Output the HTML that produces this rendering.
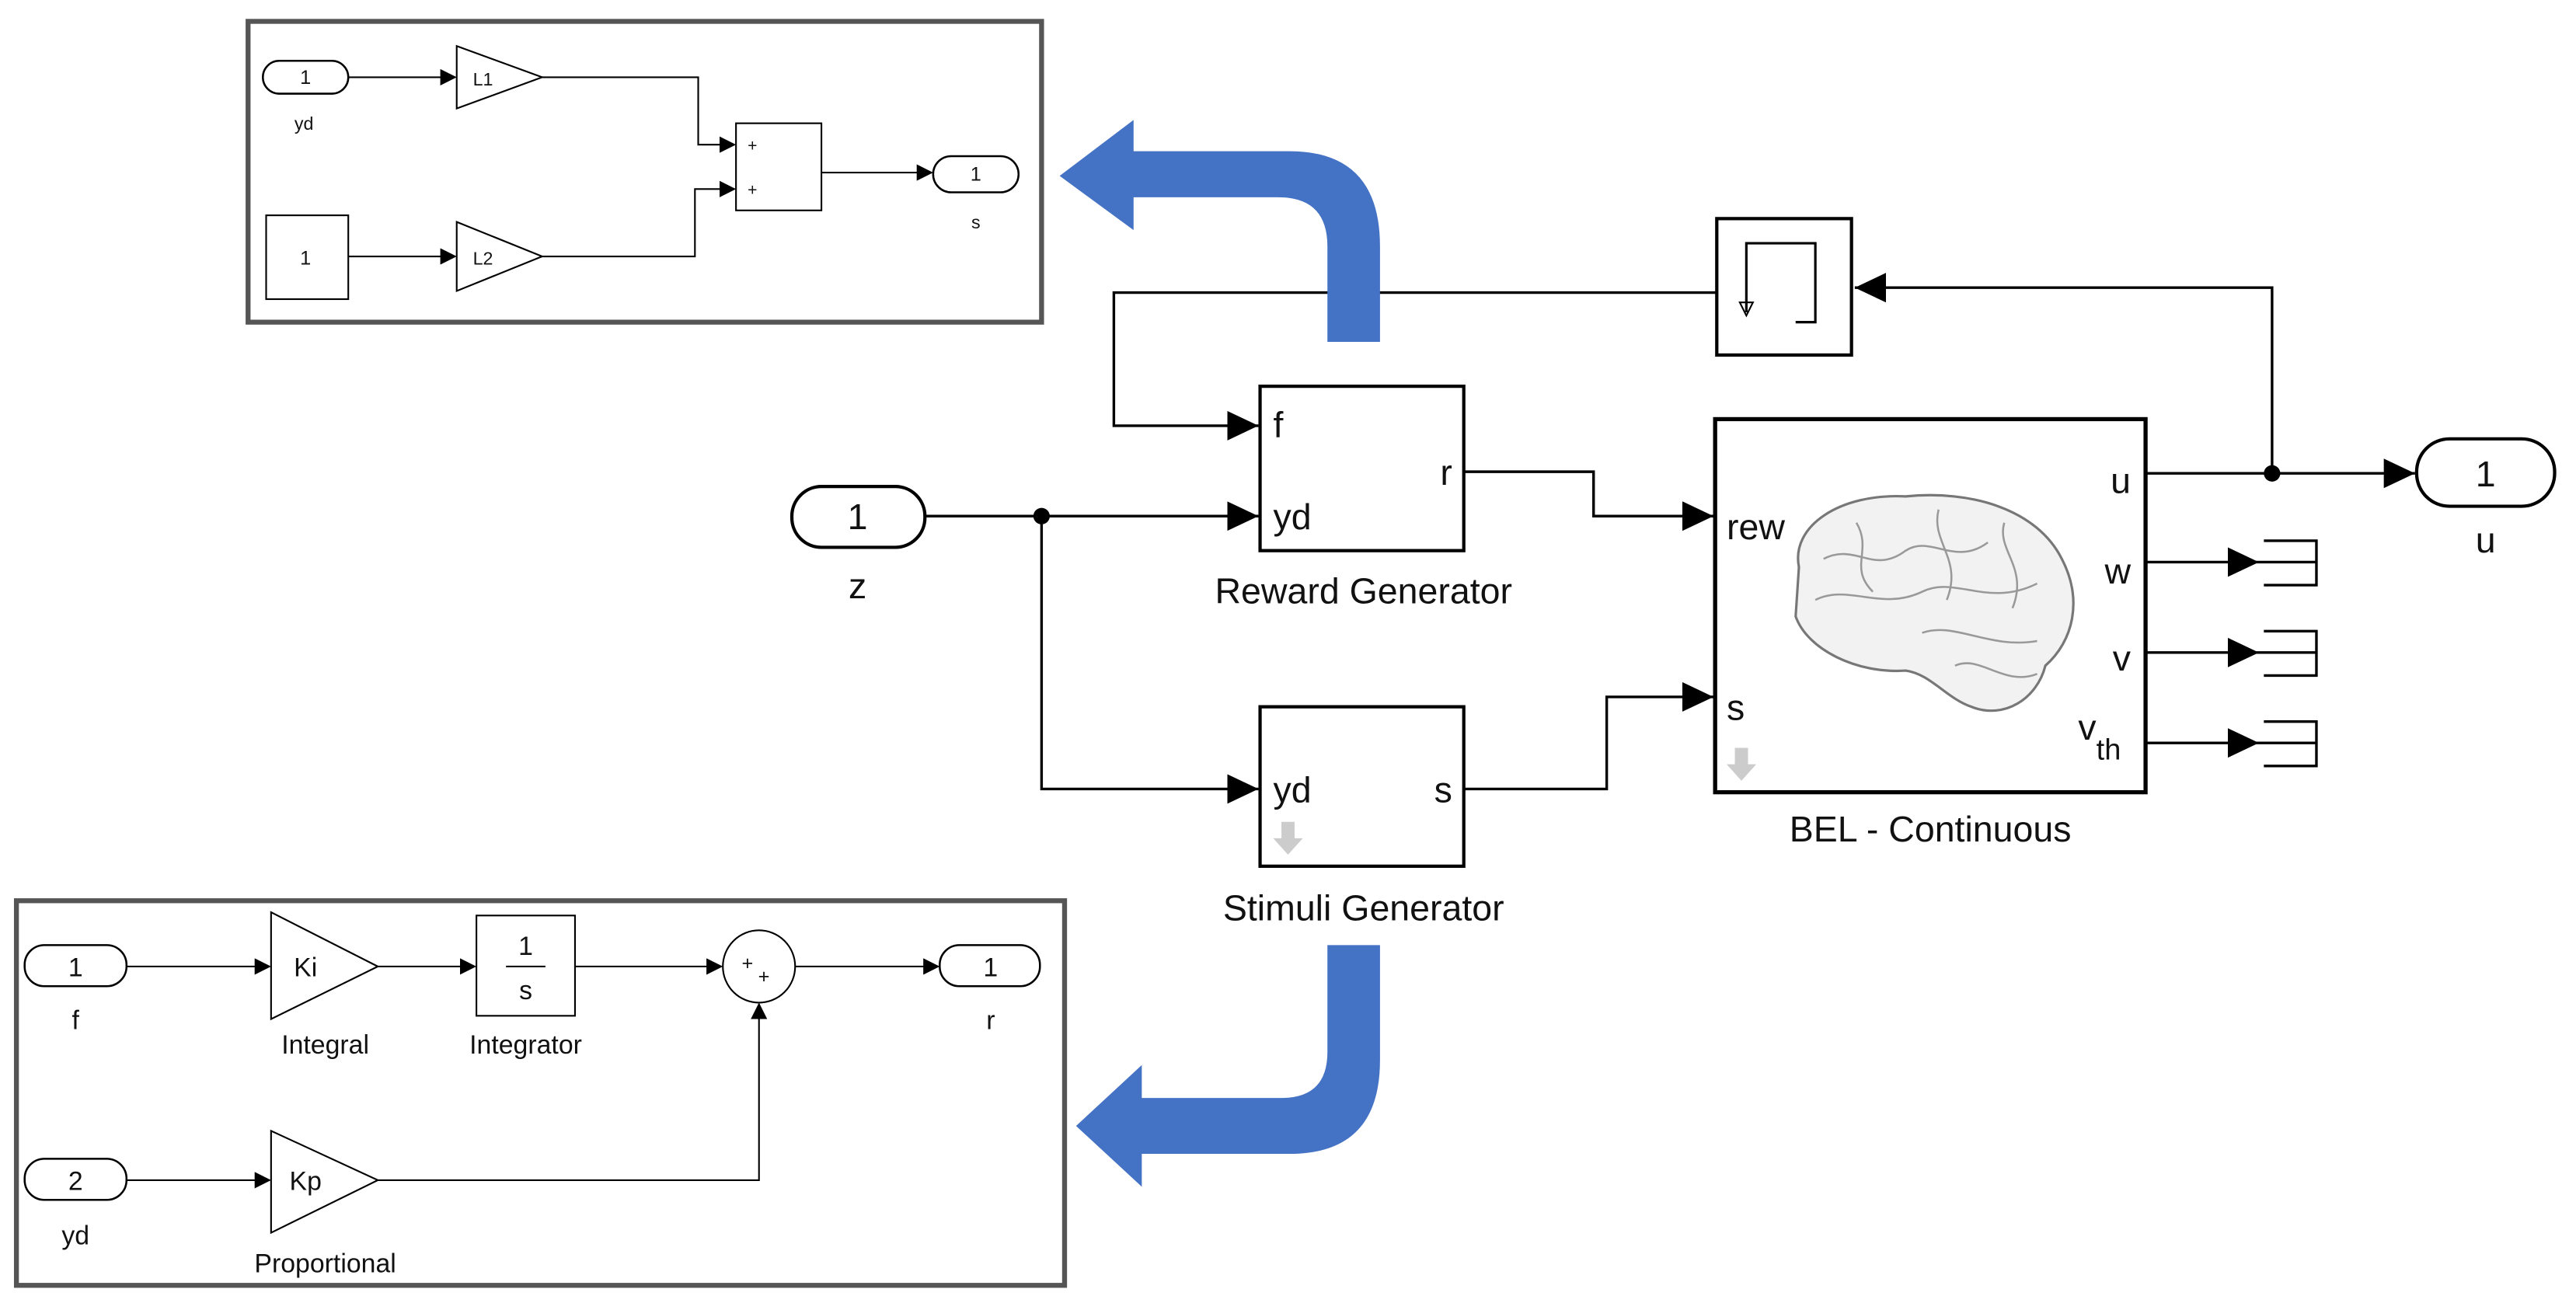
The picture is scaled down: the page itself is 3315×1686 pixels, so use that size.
<!DOCTYPE html>
<html><head><meta charset="utf-8"><style>
html,body{margin:0;padding:0;background:#fff;}
svg{display:block;}
text{font-family:"Liberation Sans",sans-serif;fill:#111;}
</style></head><body>
<svg width="3315" height="1686" viewBox="0 0 1568 797" preserveAspectRatio="none" xmlns="http://www.w3.org/2000/svg">
<defs>
<marker id="a" markerWidth="10" markerHeight="10" refX="9" refY="5" orient="auto" markerUnits="userSpaceOnUse"><path d="M0,0 L10,5 L0,10 Z" fill="#000"/></marker>
<marker id="A" markerWidth="20" markerHeight="20" refX="19" refY="9" orient="auto" markerUnits="userSpaceOnUse"><path d="M0,0 L19,9 L0,18 Z" fill="#000"/></marker>
</defs>
<g fill="none" stroke="#000">
<!-- top-left box -->
<rect x="151" y="13" width="483" height="183" stroke="#555" stroke-width="3"/>
<rect x="160" y="37" width="52" height="20" rx="10" stroke-width="1.2"/>
<line x1="212" y1="47" x2="277" y2="47" marker-end="url(#a)"/>
<path d="M278,28 L330,47 L278,66 Z"/>
<polyline points="330,47 425,47 425,88 447,88" marker-end="url(#a)"/>
<rect x="448" y="75" width="52" height="53"/>
<rect x="162" y="131" width="50" height="51"/>
<line x1="212" y1="156" x2="277" y2="156" marker-end="url(#a)"/>
<path d="M278,135 L330,156 L278,177 Z"/>
<polyline points="330,156 423,156 423,115 447,115" marker-end="url(#a)"/>
<line x1="500" y1="105" x2="567" y2="105" marker-end="url(#a)"/>
<rect x="568" y="95" width="52" height="22" rx="11" stroke-width="1.2"/>
<!-- bottom-left box -->
<rect x="10" y="548" width="638" height="234" stroke="#555" stroke-width="3"/>
<rect x="15" y="575" width="62" height="25" rx="12" stroke-width="1.2"/>
<line x1="77" y1="588" x2="164" y2="588" marker-end="url(#a)"/>
<path d="M165,555 L230,588 L165,620 Z"/>
<line x1="230" y1="588" x2="289" y2="588" marker-end="url(#a)"/>
<rect x="290" y="557" width="60" height="61"/>
<line x1="308" y1="588" x2="332" y2="588" stroke-width="1"/>
<line x1="350" y1="588" x2="439" y2="588" marker-end="url(#a)"/>
<circle cx="462" cy="588" r="22"/>
<line x1="484" y1="588" x2="571" y2="588" marker-end="url(#a)"/>
<rect x="572" y="575" width="61" height="25" rx="12" stroke-width="1.2"/>
<rect x="15" y="705" width="62" height="25" rx="12" stroke-width="1.2"/>
<line x1="77" y1="718" x2="164" y2="718" marker-end="url(#a)"/>
<path d="M165,688 L230,718 L165,750 Z"/>
<polyline points="230,718 462,718 462,611" marker-end="url(#a)"/>
<!-- main -->
<g stroke-width="1.6">
<rect x="482" y="296" width="81" height="37" rx="18" stroke-width="2"/>
<line x1="563" y1="314" x2="766" y2="314" marker-end="url(#A)"/>
<polyline points="634,314 634,480 766,480" marker-end="url(#A)"/>
<rect x="767" y="235" width="124" height="100" stroke-width="2"/>
<rect x="767" y="430" width="124" height="97" stroke-width="2"/>
<polyline points="891,287 970,287 970,314 1043,314" marker-end="url(#A)"/>
<polyline points="891,480 978,480 978,424 1043,424" marker-end="url(#A)"/>
<rect x="1044" y="255" width="262" height="227" stroke-width="2.5"/>
<line x1="1306" y1="288" x2="1470" y2="288" marker-end="url(#A)"/>
<rect x="1471" y="267" width="84" height="41" rx="20" stroke-width="2"/>
<polyline points="1383,288 1383,175 1129,175" marker-end="url(#A)"/>
<rect x="1045" y="133" width="82" height="83" stroke-width="2"/>
<polyline points="1045,178 678,178 678,259 766,259" marker-end="url(#A)"/>
<polyline points="1063,190 1063,148 1105,148 1105,196 1093,196" stroke-width="1.5"/>
<path d="M1059,184 L1067,184 L1063,192 Z" stroke-width="1"/>
<line x1="1306" y1="342" x2="1375" y2="342" marker-end="url(#A)"/>
<line x1="1306" y1="397" x2="1375" y2="397" marker-end="url(#A)"/>
<line x1="1306" y1="452" x2="1375" y2="452" marker-end="url(#A)"/>
<polyline points="1378,329 1410,329 1410,356 1378,356"/><line x1="1375" y1="342" x2="1410" y2="342"/>
<polyline points="1378,384 1410,384 1410,411 1378,411"/><line x1="1375" y1="397" x2="1410" y2="397"/>
<polyline points="1378,439 1410,439 1410,466 1378,466"/><line x1="1375" y1="452" x2="1410" y2="452"/>
</g>
<!-- brain -->
<path d="M1095,345 C1090,320 1120,300 1160,302 C1200,298 1240,310 1255,340 C1268,365 1262,390 1245,405 C1240,425 1220,438 1200,430 C1185,425 1175,410 1160,408 C1130,410 1100,395 1093,375 Z" fill="#f2f2f2" stroke="#777" stroke-width="1.5"/>
<path d="M1110,340 C1130,330 1140,350 1160,335 C1175,325 1190,345 1210,330 M1105,365 C1125,355 1145,372 1170,360 C1190,350 1210,370 1240,355 M1130,318 C1140,335 1125,345 1140,360 M1180,310 C1175,330 1195,340 1185,365 M1220,318 C1215,335 1235,345 1225,370 M1170,385 C1190,378 1210,395 1240,390 M1190,405 C1205,398 1220,418 1240,410" stroke="#999" stroke-width="1.2"/>
</g>
<!-- junctions -->
<circle cx="634" cy="314" r="5"/>
<circle cx="1383" cy="288" r="5"/>
<!-- gray arrows -->
<path d="M780,500 h8 v10 h5 l-9,10 l-9,-10 h5 z" fill="#ccc"/>
<path d="M1056,455 h8 v10 h5 l-9,10 l-9,-10 h5 z" fill="#ccc"/>
<!-- blue arrows -->
<path d="M808,208 L808,150 Q808,120 778,120 L690,120 L690,140 L645,107 L690,73 L690,92 L785,92 Q840,92 840,150 L840,208 Z" fill="#4472c4"/>
<path d="M808,575 L808,640 Q808,668 780,668 L695,668 L695,648 L655,685 L695,722 L695,702 L785,702 Q840,702 840,645 L840,575 Z" fill="#4472c4"/>
<!-- text -->
<g font-size="12" text-anchor="middle">
<text x="186" y="51">1</text><text x="185" y="79" font-size="11">yd</text>
<text x="294" y="52" font-size="11">L1</text><text x="294" y="161" font-size="11">L2</text>
<text x="186" y="161">1</text>
<text x="458" y="92" font-size="10">+</text><text x="458" y="119" font-size="10">+</text>
<text x="594" y="110">1</text><text x="594" y="139" font-size="11">s</text>
</g>
<g font-size="16" text-anchor="middle">
<text x="46" y="594">1</text><text x="46" y="626">f</text>
<text x="186" y="594">Ki</text><text x="198" y="641">Integral</text>
<text x="320" y="581">1</text><text x="320" y="608">s</text><text x="320" y="641">Integrator</text>
<text x="455" y="590" font-size="12">+</text><text x="465" y="598" font-size="12">+</text>
<text x="603" y="594">1</text><text x="603" y="626">r</text>
<text x="46" y="724">2</text><text x="46" y="757">yd</text>
<text x="186" y="724">Kp</text><text x="198" y="774">Proportional</text>
</g>
<g font-size="22">
<text x="522" y="322" text-anchor="middle">1</text>
<text x="522" y="364" text-anchor="middle">z</text>
<text x="775" y="266">f</text><text x="775" y="322">yd</text><text x="884" y="295" text-anchor="end">r</text>
<text x="830" y="367" text-anchor="middle">Reward Generator</text>
<text x="775" y="488">yd</text><text x="884" y="488" text-anchor="end">s</text>
<text x="830" y="560" text-anchor="middle">Stimuli Generator</text>
<text x="1051" y="328">rew</text><text x="1051" y="438">s</text>
<text x="1297" y="300" text-anchor="end">u</text>
<text x="1297" y="355" text-anchor="end">w</text>
<text x="1297" y="408" text-anchor="end">v</text>
<text x="1265" y="450">v</text><text x="1276" y="462" font-size="18">th</text>
<text x="1175" y="512" text-anchor="middle">BEL - Continuous</text>
<text x="1513" y="296" text-anchor="middle">1</text>
<text x="1513" y="336" text-anchor="middle">u</text>
</g>
</svg>
</body></html>
